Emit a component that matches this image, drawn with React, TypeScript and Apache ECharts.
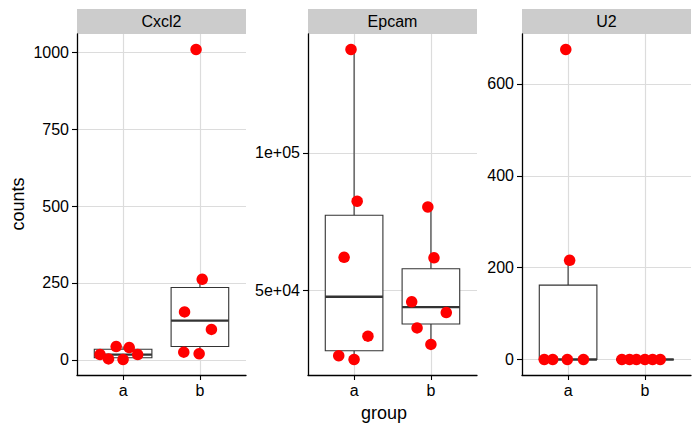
import React, { useEffect, useRef } from "react";
import * as echarts from "echarts";

// ---- data ----
const panels = ["Cxcl2", "Epcam", "U2"];
const categories = ["a", "b"];

const cxcl2A = [17, 3, 43, 1, 40, 17];
const cxcl2AJitter = [-0.3, -0.19, -0.09, 0.0, 0.08, 0.19];
const cxcl2B = [25, 156, 1010, 20, 262, 99];
const cxcl2BJitter = [-0.21, -0.2, -0.05, -0.01, 0.03, 0.15];

const epcamA = [137600, 82400, 62000, 33300, 26200, 24800];
const epcamAJitter = [-0.04, 0.04, -0.13, 0.18, -0.2, 0.0];
const epcamB = [80300, 61800, 45800, 41900, 36300, 30300];
const epcamBJitter = [-0.04, 0.04, -0.25, 0.2, -0.18, 0.0];

const u2A = [675, 216, 0, 0, 0, 0];
const u2AJitter = [-0.03, 0.02, -0.31, -0.2, -0.01, 0.2];
const u2B = [0, 0, 0, 0, 0, 0];
const u2BJitter = [-0.3, -0.2, -0.11, 0.0, 0.1, 0.2];

const cxcl2Ticks = [0, 250, 500, 750, 1000];
const epcamTicks = [50000, 100000];
const epcamTickLabels = ["5e+04", "1e+05"];
const u2Ticks = [0, 200, 400, 600];

// ---- helpers ----
function quantile(sorted: number[], p: number) {
  const h = (sorted.length - 1) * p;
  const lo = Math.floor(h);
  const hi = Math.ceil(h);
  return sorted[lo] + (h - lo) * (sorted[hi] - sorted[lo]);
}
function boxStats(vals: number[], x: number) {
  const s = [...vals].sort((a, b) => a - b);
  const q1 = quantile(s, 0.25);
  const med = quantile(s, 0.5);
  const q3 = quantile(s, 0.75);
  const iqr = q3 - q1;
  const lo = Math.min(...s.filter((v) => v >= q1 - 1.5 * iqr));
  const hi = Math.max(...s.filter((v) => v <= q3 + 1.5 * iqr));
  return [x, lo, q1, med, q3, hi];
}

const FONT = "Liberation Sans, Arial, sans-serif";

export default function App() {
  const ref = useRef<HTMLDivElement>(null);
  useEffect(() => {
    document.body.style.margin = "0";
    const chart = echarts.init(ref.current!, undefined, { renderer: "svg" });

    const panelData = [
      { groups: [[cxcl2A, cxcl2AJitter], [cxcl2B, cxcl2BJitter]], ticks: cxcl2Ticks, labels: null as null | string[] },
      { groups: [[epcamA, epcamAJitter], [epcamB, epcamBJitter]], ticks: epcamTicks, labels: epcamTickLabels },
      { groups: [[u2A, u2AJitter], [u2B, u2BJitter]], ticks: u2Ticks, labels: null as null | string[] },
    ];
    const lefts = [77, 308, 522];
    const top = 34;
    const width = 169;
    const height = 341;

    const grids: any[] = [];
    const xAxes: any[] = [];
    const yAxes: any[] = [];
    const series: any[] = [];
    const graphics: any[] = [];

    panelData.forEach((p, i) => {
      const all = ([] as number[]).concat(...p.groups.map((g) => g[0]));
      const mn = Math.min(...all);
      const mx = Math.max(...all);
      const r = mx - mn;
      grids.push({ left: lefts[i], top, width, height, containLabel: false });
      xAxes.push({
        type: "value",
        gridIndex: i,
        min: 0.4,
        max: 2.6,
        axisLine: { show: true, onZero: false, lineStyle: { color: "#000", width: 1.3 } },
        axisTick: { show: true, length: 5, customValues: [1, 2], lineStyle: { color: "#000", width: 1.1 } },
        axisLabel: {
          customValues: [1, 2],
          formatter: (v: number) => categories[Math.round(v) - 1],
          color: "#000",
          fontSize: 16,
          fontFamily: FONT,
          margin: 7,
        },
        splitLine: { show: true, lineStyle: { color: "#dcdcdc", width: 1.2 } },
      });
      yAxes.push({
        type: "value",
        gridIndex: i,
        min: mn - 0.05 * r,
        max: mx + 0.05 * r,
        axisLine: { show: true, onZero: false, lineStyle: { color: "#000", width: 1.3 } },
        axisTick: { show: true, length: 5, customValues: p.ticks, lineStyle: { color: "#000", width: 1.1 } },
        axisLabel: {
          customValues: p.ticks,
          formatter: (v: number) => {
            if (p.labels) {
              const k = p.ticks.indexOf(v);
              return k >= 0 ? p.labels[k] : "";
            }
            return String(v);
          },
          color: "#000",
          fontSize: 16,
          fontFamily: FONT,
          margin: 8,
        },
        splitLine: { show: true, lineStyle: { color: "#dcdcdc", width: 1.2 } },
      });

      const boxes = p.groups.map((g, k) => boxStats(g[0] as number[], k + 1));
      series.push({
        type: "custom",
        xAxisIndex: i,
        yAxisIndex: i,
        data: boxes,
        encode: { x: 0, y: [1, 2, 3, 4, 5] },
        z: 2,
        renderItem: (params: any, api: any) => {
          const x = api.value(0);
          const lo = api.value(1);
          const q1 = api.value(2);
          const med = api.value(3);
          const q3 = api.value(4);
          const hi = api.value(5);
          const c = api.coord([x, med]);
          const pLo = api.coord([x, lo]);
          const pHi = api.coord([x, hi]);
          const pQ1 = api.coord([x - 0.375, q1]);
          const pQ3 = api.coord([x + 0.375, q3]);
          const stroke = "#333333";
          return {
            type: "group",
            children: [
              { type: "line", shape: { x1: c[0], y1: pQ3[1], x2: c[0], y2: pHi[1] }, style: { stroke, lineWidth: 1.1 } },
              { type: "line", shape: { x1: c[0], y1: pQ1[1], x2: c[0], y2: pLo[1] }, style: { stroke, lineWidth: 1.1 } },
              {
                type: "rect",
                shape: { x: pQ1[0], y: pQ3[1], width: pQ3[0] - pQ1[0], height: pQ1[1] - pQ3[1] },
                style: { fill: "#ffffff", stroke, lineWidth: 1.1 },
              },
              { type: "line", shape: { x1: pQ1[0], y1: c[1], x2: pQ3[0], y2: c[1] }, style: { stroke, lineWidth: 2.4 } },
            ],
          };
        },
      });

      const pts: number[][] = [];
      p.groups.forEach((g, k) => {
        const vals = g[0] as number[];
        const jit = g[1] as number[];
        vals.forEach((v, j) => pts.push([k + 1 + jit[j], v]));
      });
      series.push({
        type: "scatter",
        xAxisIndex: i,
        yAxisIndex: i,
        data: pts,
        symbolSize: 11.5,
        itemStyle: { color: "#ff0000", opacity: 1 },
        z: 3,
        clip: false,
      });

      graphics.push({
        type: "rect",
        shape: { x: lefts[i], y: 9, width, height: 25 },
        style: { fill: "#cccccc" },
      });
      graphics.push({
        type: "text",
        x: lefts[i] + width / 2,
        y: 21.5,
        style: {
          text: panels[i],
          fill: "#000",
          fontSize: 16,
          fontFamily: FONT,
          textAlign: "center",
          textVerticalAlign: "middle",
        },
      });
    });

    graphics.push({
      type: "text",
      x: 18,
      y: 204,
      rotation: Math.PI / 2,
      style: {
        text: "counts",
        fill: "#000",
        fontSize: 18,
        fontFamily: FONT,
        textAlign: "center",
        textVerticalAlign: "middle",
      },
    });
    graphics.push({
      type: "text",
      x: 384,
      y: 413,
      style: {
        text: "group",
        fill: "#000",
        fontSize: 18,
        fontFamily: FONT,
        textAlign: "center",
        textVerticalAlign: "middle",
      },
    });

    chart.setOption({
      animation: false,
      backgroundColor: "#ffffff",
      grid: grids,
      xAxis: xAxes,
      yAxis: yAxes,
      series,
      graphic: graphics,
    });
    return () => chart.dispose();
  }, []);
  return <div ref={ref} style={{ position: "fixed", left: 0, top: 0, width: 700, height: 432 }} />;
}
